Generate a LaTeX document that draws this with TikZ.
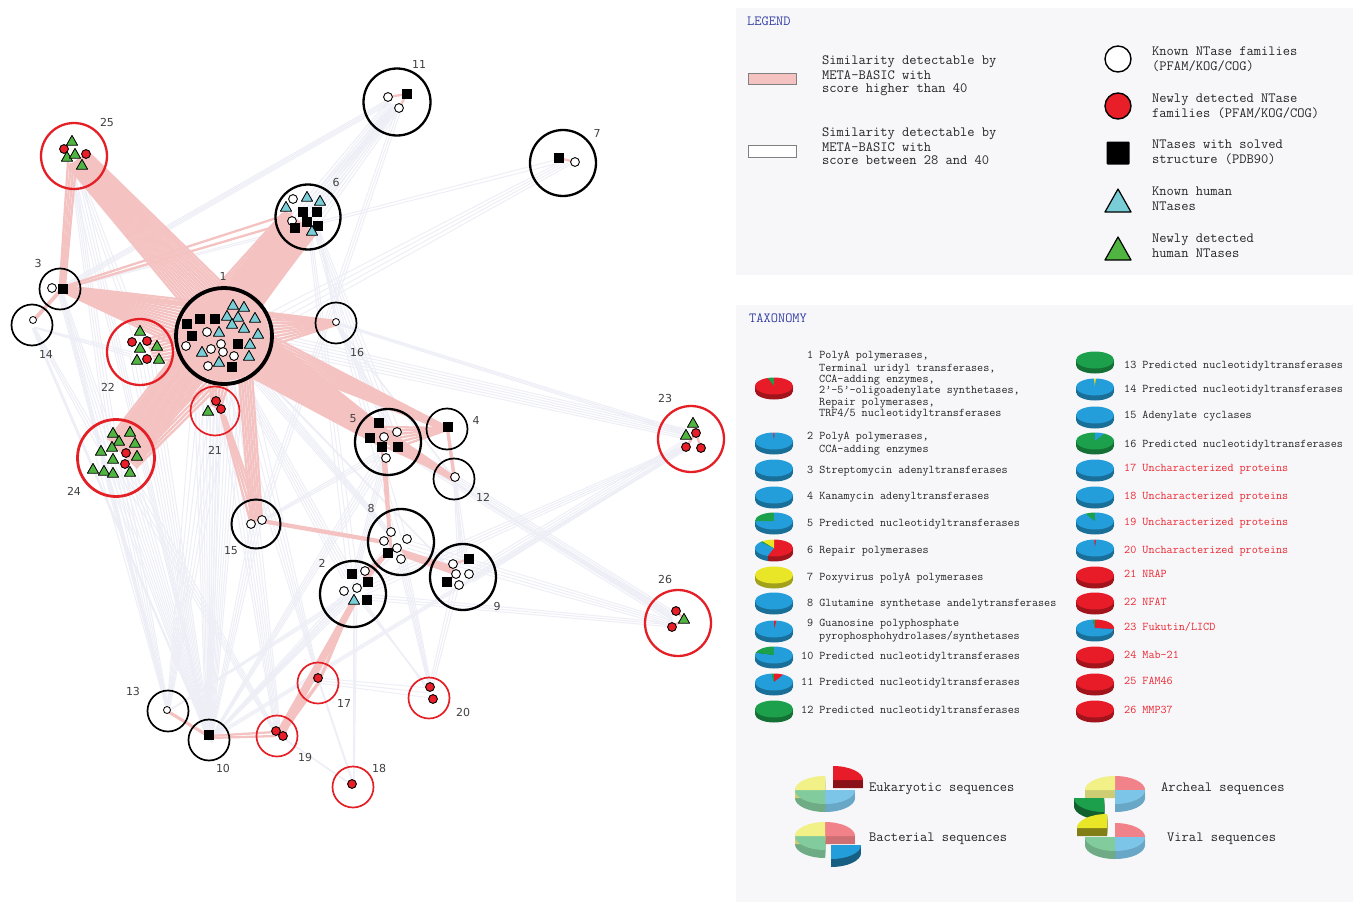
\documentclass[tikz,border=0pt]{standalone}
\usepackage{fontspec}
\newfontfamily\labfont{DejaVu Sans}
\usetikzlibrary{calc}
\pgfdeclarelayer{bg}
\pgfsetlayers{bg,main}
\definecolor{pk}{RGB}{245,194,194}
\definecolor{lav}{RGB}{238,238,247}
\definecolor{cred}{RGB}{228,32,38}
\definecolor{dred}{RGB}{232,30,40}
\definecolor{cyant}{RGB}{120,205,215}
\definecolor{grt}{RGB}{80,180,65}
\definecolor{pR}{RGB}{232,28,40}
\definecolor{pG}{RGB}{28,160,75}
\definecolor{pB}{RGB}{36,158,218}
\definecolor{pY}{RGB}{232,230,38}
\definecolor{panel}{RGB}{247,247,250}
\definecolor{hblue}{RGB}{55,65,165}
\definecolor{tred}{RGB}{236,40,50}
% bundle of lines between two nodes
\newcommand\bnd[8]{%
  \coordinate (bA1) at ($(#1)+(#2)$);
  \coordinate (bA2) at ($(#1)+(#3)$);
  \coordinate (bB1) at ($(#4)+(#5)$);
  \coordinate (bB2) at ($(#4)+(#6)$);
  \foreach \ii in {0,...,#7}{%
    \pgfmathsetmacro\bt{\ii/max(#7,1)}%
    \draw[#8] ($(bA1)!\bt!(bA2)$) -- ($(bB1)!\bt!(bB2)$);}}
% markers
\newcommand\wc[1]{\draw[line width=0.9pt,fill=white] (#1) circle[radius=4.4];}
\newcommand\swc[1]{\draw[line width=0.8pt,fill=white] (#1) circle[radius=3.5];}
\newcommand\rd[1]{\draw[line width=0.9pt,fill=dred] (#1) circle[radius=4.4];}
\newcommand\bs[1]{\fill ($(#1)+(-4.6,-4.6)$) rectangle +(9.2,9.2);}
\newcommand\tri[2]{\draw[line width=0.8pt,fill=#2,line join=round] ($(#1)+(0,-5.6)$) -- +(5.6,9.8) -- +(-5.6,9.8) -- cycle;}
\newcommand\ct[1]{\tri{#1}{cyant}}
\newcommand\gt[1]{\tri{#1}{grt}}
% small 3d pie
\newcommand\pie[3]{%
 \foreach \dd in {5,4,3,2,1}{%
   \foreach \pa/\pb/\pc in {#3}{%
     \fill[\pc!70!black] (#1,#2+\dd) -- +(\pa:19 and 8.5) arc[start angle=\pa,end angle=\pb,x radius=19,y radius=8.5] -- cycle;}}%
 \foreach \pa/\pb/\pc in {#3}{%
   \fill[\pc] (#1,#2) -- +(\pa:19 and 8.5) arc[start angle=\pa,end angle=\pb,x radius=19,y radius=8.5] -- cycle;}}
% big pie slices
\newcommand\bside[5]{\foreach \dd in {8,7,...,1}{\fill[#5] (#1,#2+\dd) -- +(#3:30 and 14) arc[start angle=#3,end angle=#4,x radius=30,y radius=14] -- cycle;}}
\newcommand\btop[5]{\fill[#5] (#1,#2) -- +(#3:30 and 14) arc[start angle=#3,end angle=#4,x radius=30,y radius=14] -- cycle;}
\begin{document}
\begin{tikzpicture}[x=1pt,y=-1pt,
  cl/.style={circle,draw,inner sep=0pt,line width=2.3pt},
  clr/.style={cl,draw=cred},
  cls/.style={circle,draw,inner sep=0pt,line width=1.7pt,minimum size=41pt},
  clsr/.style={cls,draw=cred},
  pkl/.style={draw=pk,line width=2.3pt},
  lvl/.style={draw=lav,line width=1pt},
  lab/.style={font=\labfont\fontsize{11}{13}\selectfont,text=black!75,inner sep=0pt},
  lg/.style={font=\ttfamily\fontsize{14.1}{16}\selectfont,text=black!85,inner sep=0pt,anchor=mid west},
  tx/.style={font=\ttfamily\fontsize{11.8}{13}\selectfont,text=black!85,inner sep=0pt,anchor=mid west},
  txr/.style={tx,text=tred},
  hd/.style={font=\ttfamily\fontsize{14}{16}\selectfont,text=hblue,inner sep=0pt,anchor=mid west}]
\useasboundingbox (0,0) rectangle (1353,902);
% panels
\fill[panel] (736,8) rectangle (1353,275);
\fill[panel] (736,305) rectangle (1353,902);
% clusters
\node[cl,line width=3.8pt,minimum size=96pt] (c1) at (224,336) {};
\node[cl,minimum size=66pt] (c2) at (353,594) {};
\node[cls] (c3) at (60,289) {};
\node[cls] (c4) at (447,429) {};
\node[cl,minimum size=66pt] (c5) at (388,442) {};
\node[cl,minimum size=65pt] (c6) at (308,217) {};
\node[cl,minimum size=66pt] (c7) at (563,163) {};
\node[cl,minimum size=66pt] (c8) at (401,542) {};
\node[cl,minimum size=66pt] (c9) at (463,577) {};
\node[cls] (c10) at (209,740) {};
\node[cl,minimum size=67pt] (c11) at (397,102) {};
\node[cls] (c12) at (454,479) {};
\node[cls] (c13) at (168,711) {};
\node[cls] (c14) at (32,325) {};
\node[cl,line width=2pt,minimum size=49pt] (c15) at (256,524) {};
\node[cls] (c16) at (336,323) {};
\node[clsr] (c17) at (318,683) {};
\node[clsr] (c18) at (353,787) {};
\node[clsr] (c19) at (277,736) {};
\node[clsr] (c20) at (429,698) {};
\node[clsr,minimum size=49pt] (c21) at (215,411) {};
\node[clr,minimum size=66pt] (c22) at (140,352) {};
\node[clr,minimum size=66pt] (c23) at (691,439) {};
\node[clr,line width=2.8pt,minimum size=77pt] (c24) at (116,458) {};
\node[clr,minimum size=66pt] (c25) at (74,156) {};
\node[clr,minimum size=66pt] (c26) at (678,623) {};
% cluster labels
\node[lab] (l1) at (223,276) {1};
\node[lab] (l2) at (322,563) {2};
\node[lab] (l3) at (38,263) {3};
\node[lab] (l4) at (476,420) {4};
\node[lab] (l5) at (353,419) {5};
\node[lab] (l6) at (336,182) {6};
\node[lab] (l7) at (597,133) {7};
\node[lab] (l8) at (371,508) {8};
\node[lab] (l9) at (497,606) {9};
\node[lab] (l10) at (223,768) {10};
\node[lab] (l11) at (419,64) {11};
\node[lab] (l12) at (483,497) {12};
\node[lab] (l13) at (133,691) {13};
\node[lab] (l14) at (46,354) {14};
\node[lab] (l15) at (231,551) {15};
\node[lab] (l16) at (357,352) {16};
\node[lab] (l17) at (344,703) {17};
\node[lab] (l18) at (379,768) {18};
\node[lab] (l19) at (305,757) {19};
\node[lab] (l20) at (463,712) {20};
\node[lab] (l21) at (215,450) {21};
\node[lab] (l22) at (108,387) {22};
\node[lab] (l23) at (665,398) {23};
\node[lab] (l24) at (74,491) {24};
\node[lab] (l25) at (107,122) {25};
\node[lab] (l26) at (665,579) {26};
% connectors
\begin{pgfonlayer}{bg}
\fill[white] (0,0) rectangle (1353,902);
% weak similarities
\bnd{c11}{-10,0}{5,5}{c1}{0,-40}{30,-20}{8}{lvl}
\bnd{c11}{-10,-2}{-8,2}{c3}{0,-2}{2,2}{3}{lvl}
\bnd{c11}{-5,5}{0,8}{c24}{0,-10}{10,0}{3}{lvl}
\bnd{c11}{0,5}{4,8}{c15}{0,-2}{6,-2}{2}{lvl}
\bnd{c11}{-5,3}{0,6}{c6}{-5,-10}{5,-10}{3}{lvl}
\bnd{c7}{-4,-4}{-4,0}{c3}{0,0}{3,0}{1}{lvl}
\bnd{c7}{-4,0}{10,0}{c1}{20,-10}{30,5}{3}{lvl}
\bnd{c23}{-5,-10}{-5,0}{c1}{20,-10}{30,10}{5}{lvl}
\bnd{c23}{-5,-8}{-5,-4}{c16}{0,-1}{0,1}{2}{lvl}
\bnd{c23}{-5,0}{-3,8}{c9}{5,-5}{10,5}{4}{lvl}
\bnd{c23}{-3,5}{0,8}{c2}{10,-10}{14,0}{3}{lvl}
\bnd{c23}{-2,6}{0,8}{c10}{0,-2}{2,0}{2}{lvl}
\bnd{c26}{-5,-12}{-5,0}{c1}{25,10}{30,25}{5}{lvl}
\bnd{c26}{-6,-10}{-6,-4}{c5}{5,5}{10,5}{3}{lvl}
\bnd{c26}{-5,-2}{-5,4}{c8}{6,-2}{6,10}{3}{lvl}
\bnd{c26}{-5,0}{-5,4}{c2}{12,0}{14,6}{2}{lvl}
\bnd{c1}{-30,40}{20,45}{c10}{-3,-3}{3,3}{12}{lvl}
\bnd{c1}{-30,35}{10,45}{c13}{-1,-1}{1,1}{6}{lvl}
\bnd{c24}{-15,0}{20,10}{c10}{-2,-2}{2,2}{8}{lvl}
\bnd{c24}{-20,0}{10,15}{c13}{-1,0}{1,0}{6}{lvl}
\bnd{c22}{-10,5}{15,10}{c10}{-2,0}{2,0}{6}{lvl}
\bnd{c3}{-2,3}{2,3}{c13}{0,0}{1,0}{3}{lvl}
\bnd{c14}{0,3}{2,3}{c10}{0,0}{1,0}{2}{lvl}
\bnd{c25}{-5,8}{5,8}{c10}{0,0}{1,0}{3}{lvl}
\bnd{c21}{-5,0}{5,0}{c10}{0,0}{2,0}{3}{lvl}
\bnd{c5}{-8,10}{0,15}{c10}{0,0}{2,0}{3}{lvl}
\bnd{c8}{-10,0}{-5,10}{c10}{0,0}{2,0}{3}{lvl}
\bnd{c2}{-5,0}{0,5}{c10}{0,0}{2,0}{3}{lvl}
\bnd{c15}{-5,0}{5,0}{c10}{0,0}{2,0}{3}{lvl}
\bnd{c2}{-5,0}{-4,4}{c13}{0,0}{1,0}{2}{lvl}
\bnd{c1}{-10,40}{20,40}{c19}{-2,-4}{4,0}{6}{lvl}
\bnd{c1}{0,40}{25,35}{c17}{0,-2}{2,0}{4}{lvl}
\bnd{c24}{0,10}{15,10}{c19}{-2,-2}{2,0}{3}{lvl}
\bnd{c20}{0,-10}{2,0}{c17}{0,-5}{0,0}{2}{lvl}
\bnd{c20}{0,-10}{3,-8}{c8}{-5,10}{5,15}{4}{lvl}
\bnd{c20}{0,-10}{3,-8}{c9}{-10,5}{-4,8}{2}{lvl}
\bnd{c20}{0,-10}{0,-6}{c2}{5,5}{10,5}{2}{lvl}
\bnd{c18}{0,-3}{1,-3}{c2}{0,8}{4,8}{2}{lvl}
\bnd{c18}{-2,-2}{0,-2}{c19}{4,0}{5,2}{2}{lvl}
\bnd{c18}{0,-2}{1,-2}{c17}{1,0}{2,0}{1}{lvl}
\bnd{c3}{0,3}{3,3}{c24}{-10,-10}{0,-15}{3}{lvl}
\bnd{c14}{1,3}{3,3}{c24}{-15,-5}{-10,-10}{2}{lvl}
\bnd{c25}{-4,8}{0,8}{c24}{-10,-20}{0,-20}{3}{lvl}
\bnd{c25}{0,8}{4,8}{c22}{-5,-10}{5,-10}{2}{lvl}
\bnd{c14}{2,2}{3,3}{c22}{-8,0}{-8,5}{2}{lvl}
\bnd{c6}{5,10}{10,10}{c5}{-5,-15}{10,-15}{3}{lvl}
\bnd{c6}{10,5}{10,8}{c16}{0,-1}{0,1}{2}{lvl}
\bnd{c6}{5,10}{8,10}{c8}{-5,-5}{5,-5}{2}{lvl}
\bnd{c6}{0,12}{3,12}{c2}{-5,-15}{5,-15}{2}{lvl}
\bnd{c16}{0,2}{2,2}{c5}{0,-10}{8,-10}{3}{lvl}
\bnd{c16}{1,1}{2,2}{c12}{0,0}{1,0}{2}{lvl}
\bnd{c5}{-5,12}{0,15}{c2}{0,-20}{5,-20}{3}{lvl}
\bnd{c5}{-10,10}{-8,15}{c15}{4,-3}{6,-2}{2}{lvl}
\bnd{c12}{0,2}{2,2}{c9}{-5,-12}{0,-12}{2}{lvl}
\bnd{c4}{0,2}{2,2}{c9}{0,-15}{5,-15}{2}{lvl}
\bnd{c1}{10,40}{20,42}{c2}{-10,-15}{0,-20}{4}{lvl}
\bnd{c1}{20,35}{28,30}{c8}{-15,-10}{-10,-10}{4}{lvl}
\bnd{c1}{25,25}{28,30}{c9}{-15,-10}{-10,-5}{3}{lvl}
% strong similarities
\bnd{c25}{14,-4}{-6,10}{c1}{21,-31}{-24,-11}{16}{pkl}
\bnd{c25}{-6,6}{2,9}{c3}{0,-5}{5,-3}{3}{pkl}
\bnd{c3}{3,-3}{3,3}{c1}{-11,-33}{-37,14}{14}{pkl}
\bnd{c3}{3,-1}{3,1}{c16}{0,-2}{0,2}{2}{pkl}
\bnd{c3}{3,-2}{3,0}{c6}{-16,-4}{-14,4}{1}{pkl}
\bnd{c3}{-1,2}{1,2}{c14}{0,-4}{2,-4}{1}{pkl}
\bnd{c6}{-25,-4}{5,18}{c1}{-25,-30}{30,-20}{18}{pkl}
\bnd{c24}{-8,-18}{22,6}{c6}{-22,-6}{8,16}{16}{pkl}
\bnd{c24}{-5,-15}{20,10}{c1}{-29,-6}{11,34}{14}{pkl}
\bnd{c22}{5,-12}{15,10}{c1}{-35,-10}{-30,20}{8}{pkl}
\bnd{c1}{25,-20}{45,10}{c16}{0,-2}{0,2}{8}{pkl}
\bnd{c1}{25,-15}{22,38}{c5}{-10,-19}{-5,5}{20}{pkl}
\bnd{c1}{28,-10}{30,20}{c4}{0,-2}{0,2}{8}{pkl}
\bnd{c1}{28,0}{28,30}{c12}{0,-2}{0,2}{8}{pkl}
\bnd{c5}{-5,-15}{10,5}{c4}{0,-1}{0,1}{5}{pkl}
\bnd{c5}{-2,5}{10,5}{c12}{0,-1}{0,1}{3}{pkl}
\bnd{c4}{0,0}{1,0}{c12}{0,0}{1,0}{1}{pkl}
\bnd{c1}{-15,40}{5,45}{c21}{-3,-5}{5,0}{5}{pkl}
\bnd{c1}{15,42}{28,38}{c15}{-5,0}{6,-4}{5}{pkl}
\bnd{c21}{5,0}{10,5}{c15}{-5,0}{6,-4}{3}{pkl}
\bnd{c5}{-6,10}{-2,15}{c8}{-12,-8}{-10,8}{4}{pkl}
\bnd{c15}{6,-4}{6,-2}{c8}{-17,-1}{-17,1}{1}{pkl}
\bnd{c8}{0,8}{5,15}{c9}{-10,-10}{-5,-2}{4}{pkl}
\bnd{c8}{-12,8}{-13,11}{c2}{10,-20}{12,-12}{3}{pkl}
\bnd{c2}{0,5}{3,8}{c19}{0,-3}{6,0}{4}{pkl}
\bnd{c2}{0,6}{1,6}{c17}{0,0}{1,0}{1}{pkl}
\bnd{c17}{0,0}{1,0}{c19}{2,-2}{4,0}{1}{pkl}
\bnd{c10}{0,-4}{0,-2}{c19}{-2,-4}{-1,0}{1}{pkl}
\bnd{c13}{0,0}{0,1}{c10}{0,-4}{0,-3}{1}{pkl}
\fill[pk] (c1) circle[radius=45];
% links inside clusters
\draw[pkl] ($(c11)+(-9,-5)$) -- ($(c11)+(10,-8)$) -- ($(c11)+(2,6)$);
\draw[pkl] ($(c7)+(-4,-5)$) -- ($(c7)+(12,-1)$);
\draw[pkl] ($(c23)+(2,-16)$) -- ($(c23)+(5,-6)$) -- ($(c23)+(-5,8)$);
\draw[pkl] ($(c23)+(5,-6)$) -- ($(c23)+(10,9)$);
\draw[pkl] ($(c26)+(-2,-12)$) -- ($(c26)+(6,-4)$) -- ($(c26)+(-6,4)$);
\draw[pkl] ($(c9)+(-10,-13)$) -- ($(c9)+(6,-18)$);
\draw[pkl] ($(c9)+(-16,5)$) -- ($(c9)+(-7,-3)$);
\end{pgfonlayer}
% markers
\ct{233,305} \ct{244,307} \ct{227,316} \ct{238,317} \ct{255,318}
\bs{187,324} \bs{200,319} \bs{215,319} \ct{232,324} \ct{244,328}
\wc{207,332} \ct{219,332} \bs{192,336} \ct{258,334} \wc{186,346}
\bs{238,344} \ct{250,344} \wc{221,344} \wc{211,349} \wc{223,352}
\ct{202,352} \wc{234,356} \ct{249,356} \ct{219,362} \wc{208,366} \bs{232,367}
\wc{293,199} \ct{307,197} \ct{320,201} \ct{286,207} \bs{303,212} \bs{317,212}
\wc{292,221} \bs{307,222} \bs{318,226} \bs{295,228} \ct{312,231}
\gt{72,141} \rd{64,149} \gt{67,157} \gt{75,154} \rd{86,154} \gt{82,165}
\wc{52,288} \bs{63,289}
\swc{33,320}
\swc{336,322}
\gt{140,331} \rd{132,342} \rd{147,341} \gt{140,348} \gt{157,346} \gt{137,360} \rd{147,359} \gt{159,359}
\rd{216,401} \gt{208,411} \rd{221,409}
\gt{113,433} \gt{130,432} \gt{119,441} \gt{135,443} \gt{101,451} \gt{112,447} \rd{126,453}
\gt{137,456} \gt{113,459} \rd{125,464} \gt{93,469} \gt{104,471} \gt{113,473} \gt{130,472}
\bs{379,423} \wc{397,432} \bs{370,438} \wc{384,437} \bs{382,447} \bs{398,447} \wc{386,458}
\bs{448,427}
\wc{455,477}
\wc{251,524} \wc{262,520}
\wc{391,532} \wc{384,541} \wc{407,539} \wc{397,548} \bs{388,553} \wc{401,559}
\wc{365,571} \bs{352,574} \bs{368,582} \wc{344,591} \wc{357,588} \ct{354,600} \bs{367,600}
\bs{469,559} \wc{453,564} \wc{456,574} \wc{469,574} \bs{447,582} \wc{459,585}
\wc{388,97} \bs{407,94} \wc{399,108}
\bs{559,158} \wc{575,162}
\gt{693,423} \gt{686,435} \rd{696,433} \rd{686,447} \rd{701,448}
\rd{676,611} \gt{684,619} \rd{672,627}
\rd{318,678}
\rd{276,731} \rd{283,736}
\rd{430,687} \rd{433,699}
\rd{352,784}
\swc{167,710}
\bs{209,735}
% legend
\node[hd] (hleg) at (747,23) {LEGEND};
\draw[gray,line width=1pt,fill=pk] (748,73) rectangle (796,84);
\draw[gray,line width=1pt,fill=white] (748,145) rectangle (796,157);
\node[lg] (ga1) at (822,62) {Similarity detectable by};
\node[lg] (ga2) at (822,77) {META-BASIC with};
\node[lg] (ga3) at (822,90) {score higher than 40};
\node[lg] (gb1) at (822,134) {Similarity detectable by};
\node[lg] (gb2) at (822,149) {META-BASIC with};
\node[lg] (gb3) at (822,162) {score between 28 and 40};
\draw[line width=1.4pt,fill=white] (1118,59) circle[radius=13];
\draw[line width=1.4pt,fill=dred] (1118,106) circle[radius=13];
\fill[rounded corners=1pt] (1106.5,141.5) rectangle (1129.5,164.5);
\draw[line width=1.2pt,fill=cyant,line join=round] (1118,189) -- (1131,212) -- (1105,212) -- cycle;
\draw[line width=1.2pt,fill=grt,line join=round] (1118,237) -- (1131,260) -- (1105,260) -- cycle;
\node[lg] (gc1) at (1152,53) {Known NTase families};
\node[lg] (gc2) at (1152,68) {(PFAM/KOG/COG)};
\node[lg] (gd1) at (1152,100) {Newly detected NTase};
\node[lg] (gd2) at (1152,115) {families (PFAM/KOG/COG)};
\node[lg] (ge1) at (1152,146) {NTases with solved};
\node[lg] (ge2) at (1152,161) {structure (PDB90)};
\node[lg] (gf1) at (1152,193) {Known human};
\node[lg] (gf2) at (1152,208) {NTases};
\node[lg] (gg1) at (1152,240) {Newly detected};
\node[lg] (gg2) at (1152,255) {human NTases};
% taxonomy
\node[hd] (htax) at (749,320) {TAXONOMY};
\pie{774}{386}{250/270/pG,270/610/pR}
\pie{774}{441}{0/268/pB,268/272/pR,272/360/pB}
\pie{774}{468}{0/360/pB}
\pie{774}{495}{0/360/pB}
\pie{774}{521}{0/180/pB,180/270/pG,270/360/pB}
\pie{774}{548}{-90/110/pR,110/225/pB,225/233/pG,233/270/pY}
\pie{774}{575}{0/360/pY}
\pie{774}{601}{0/360/pB}
\pie{774}{629}{0/270/pB,270/278/pR,278/360/pB}
\pie{774}{655}{0/195/pB,195/270/pG,270/360/pB}
\pie{774}{682}{0/262/pB,262/270/pG,270/300/pR,300/360/pB}
\pie{774}{709}{0/360/pG}
\pie{1095}{360}{0/360/pG}
\pie{1095}{387}{0/267/pB,267/273/pY,273/360/pB}
\pie{1095}{415}{0/360/pB}
\pie{1095}{441}{0/270/pG,270/300/pB,300/360/pG}
\pie{1095}{468}{0/360/pB}
\pie{1095}{495}{0/360/pB}
\pie{1095}{521}{0/240/pB,240/270/pG,270/360/pB}
\pie{1095}{548}{0/268/pB,268/273/pR,273/360/pB}
\pie{1095}{575}{0/360/pR}
\pie{1095}{601}{0/360/pR}
\pie{1095}{628}{5/262/pB,262/270/pG,270/365/pR}
\pie{1095}{655}{0/360/pR}
\pie{1095}{682}{0/360/pR}
\pie{1095}{709}{0/360/pR}
\node[tx] (t1a) at (807,356) {1 PolyA polymerases,};
\node[tx] (t1b) at (819,369) {Terminal uridyl transferases,};
\node[tx] (t1c) at (819,380) {CCA-adding enzymes,};
\node[tx] (t1d) at (819,391) {2’-5’-oligoadenylate synthetases,};
\node[tx] (t1e) at (819,403) {Repair polymerases,};
\node[tx] (t1f) at (819,414) {TRF4/5 nucleotidyltransferases};
\node[tx] (t2a) at (807,437) {2 PolyA polymerases,};
\node[tx] (t2b) at (819,450) {CCA-adding enzymes};
\node[tx] (t3) at (807,471) {3 Streptomycin adenyltransferases};
\node[tx] (t4) at (807,497) {4 Kanamycin adenyltransferases};
\node[tx] (t5) at (807,524) {5 Predicted nucleotidyltransferases};
\node[tx] (t6) at (807,551) {6 Repair polymerases};
\node[tx] (t7) at (807,578) {7 Poxyvirus polyA polymerases};
\node[tx] (t8) at (807,604) {8 Glutamine synthetase andelytransferases};
\node[tx] (t9a) at (807,624) {9 Guanosine polyphosphate};
\node[tx] (t9b) at (819,637) {pyrophosphohydrolases/synthetases};
\node[tx] (t10) at (801,657) {10 Predicted nucleotidyltransferases};
\node[tx] (t11) at (801,683) {11 Predicted nucleotidyltransferases};
\node[tx] (t12) at (801,711) {12 Predicted nucleotidyltransferases};
\node[tx] (t13) at (1124,366) {13 Predicted nucleotidyltransferases};
\node[tx] (t14) at (1124,390) {14 Predicted nucleotidyltransferases};
\node[tx] (t15) at (1124,416) {15 Adenylate cyclases};
\node[tx] (t16) at (1124,445) {16 Predicted nucleotidyltransferases};
\node[txr] (t17) at (1124,469) {17 Uncharacterized proteins};
\node[txr] (t18) at (1124,497) {18 Uncharacterized proteins};
\node[txr] (t19) at (1124,523) {19 Uncharacterized proteins};
\node[txr] (t20) at (1124,551) {20 Uncharacterized proteins};
\node[txr] (t21) at (1124,575) {21 NRAP};
\node[txr] (t22) at (1124,603) {22 NFAT};
\node[txr] (t23) at (1124,628) {23 Fukutin/LICD};
\node[txr] (t24) at (1124,656) {24 Mab-21};
\node[txr] (t25) at (1124,682) {25 FAM46};
\node[txr] (t26) at (1124,711) {26 MMP37};
% kingdom pies
% Eukaryotic
\bside{833}{780}{270}{360}{pR!60!black}
\btop{833}{780}{270}{360}{pR}
\bside{825}{790}{0}{90}{pB!60!white!85!black}
\bside{825}{790}{90}{180}{pG!55!white!85!black}
\bside{825}{790}{180}{270}{pY!55!white!85!black}
\btop{825}{790}{0}{90}{pB!60!white}
\btop{825}{790}{90}{180}{pG!55!white}
\btop{825}{790}{180}{270}{pY!55!white}
% Bacterial
\bside{825}{836}{270}{360}{pR!55!white!85!black}
\bside{825}{836}{90}{180}{pG!55!white!85!black}
\bside{825}{836}{180}{270}{pY!55!white!85!black}
\btop{825}{836}{270}{360}{pR!55!white}
\btop{825}{836}{90}{180}{pG!55!white}
\btop{825}{836}{180}{270}{pY!55!white}
\bside{831}{845}{0}{90}{pB!60!black}
\btop{831}{845}{0}{90}{pB}
% Archeal
\bside{1115}{790}{270}{360}{pR!55!white!85!black}
\bside{1115}{790}{0}{90}{pB!60!white!85!black}
\bside{1115}{790}{180}{270}{pY!55!white!85!black}
\btop{1115}{790}{270}{360}{pR!55!white}
\btop{1115}{790}{0}{90}{pB!60!white}
\btop{1115}{790}{180}{270}{pY!55!white}
\bside{1104}{798}{90}{180}{pG!60!black}
\btop{1104}{798}{90}{180}{pG}
% Viral
\bside{1107}{828}{180}{270}{pY!55!black}
\btop{1107}{828}{180}{270}{pY}
\bside{1115}{837}{270}{360}{pR!55!white!85!black}
\bside{1115}{837}{0}{90}{pB!60!white!85!black}
\bside{1115}{837}{90}{180}{pG!55!white!85!black}
\btop{1115}{837}{270}{360}{pR!55!white}
\btop{1115}{837}{0}{90}{pB!60!white}
\btop{1115}{837}{90}{180}{pG!55!white}
\node[lg] (ke) at (869,789) {Eukaryotic sequences};
\node[lg] (kb) at (869,839) {Bacterial sequences};
\node[lg] (ka) at (1161,789) {Archeal sequences};
\node[lg] (kv) at (1167,839) {Viral sequences};
\end{tikzpicture}
\end{document}
